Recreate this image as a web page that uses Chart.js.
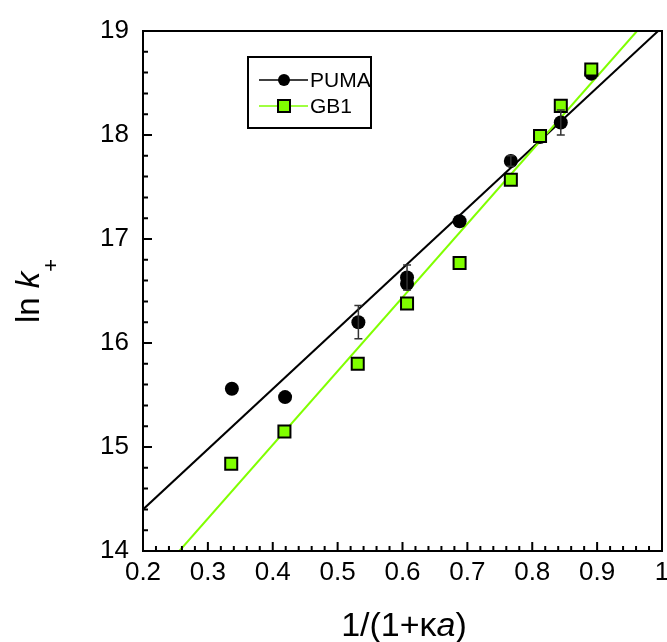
<!DOCTYPE html>
<html>
<head>
<meta charset="utf-8">
<script src="https://cdn.jsdelivr.net/npm/chart.js@4.4.1/dist/chart.umd.min.js"></script>
<style>
  html, body { margin: 0; padding: 0; background: #fff; }
</style>
</head>
<body>
<canvas id="chart" width="667" height="642"></canvas>
<script>
// datos
const xTicks = [0.2, 0.3, 0.4, 0.5, 0.6, 0.7, 0.8, 0.9, 1];
const yTicks = [14, 15, 16, 17, 18, 19];

const pumaX = [0.337, 0.419, 0.532, 0.607, 0.607, 0.688, 0.767, 0.812, 0.844, 0.891];
const pumaY = [15.56, 15.48, 16.20, 16.63, 16.57, 17.17, 17.75, 17.98, 18.12, 18.59];
const pumaErr = [0, 0, 0.16, 0.12, 0, 0, 0.05, 0, 0.12, 0];

const gb1X = [0.336, 0.418, 0.531, 0.607, 0.688, 0.767, 0.812, 0.844, 0.891];
const gb1Y = [14.84, 15.15, 15.80, 16.38, 16.77, 17.57, 17.99, 18.28, 18.63];

// rectas de ajuste (extremos)
const pumaFitX = [0.2, 0.994];
const pumaFitY = [14.40, 19];
const gb1FitX = [0.256, 0.9615];
const gb1FitY = [14, 19];

const GREEN = '#80ff00';
const FONT = '"Liberation Sans", Arial, sans-serif';

const toPts = (xs, ys) => xs.map((x, i) => ({ x: x, y: ys[i] }));

// ejes con marcas hacia adentro, marco, barras de error, leyenda y titulos
const framePlugin = {
    id: 'framePlugin',
    afterDatasetsDraw(chart) {
        const { ctx, chartArea: a, scales: { x, y } } = chart;
        ctx.save();

        // barras de error (PUMA)
        ctx.strokeStyle = '#333';
        ctx.lineWidth = 1.5;
        pumaErr.forEach((e, i) => {
            if (!e) return;
            const px = x.getPixelForValue(pumaX[i]);
            const top = y.getPixelForValue(pumaY[i] + e);
            const bot = y.getPixelForValue(pumaY[i] - e);
            ctx.beginPath();
            ctx.moveTo(px, top); ctx.lineTo(px, bot);
            ctx.moveTo(px - 4, top); ctx.lineTo(px + 4, top);
            ctx.moveTo(px - 4, bot); ctx.lineTo(px + 4, bot);
            ctx.stroke();
        });

        // marco
        ctx.strokeStyle = '#000';
        ctx.lineWidth = 2;
        ctx.strokeRect(a.left, a.top, a.right - a.left, a.bottom - a.top);

        // marcas eje x: cada 0.02, mayores cada 0.1
        ctx.beginPath();
        for (let i = 0; i <= 40; i++) {
            const px = x.getPixelForValue(0.2 + i * 0.02);
            const len = i % 5 === 0 ? 9 : 5;
            ctx.moveTo(px, a.bottom); ctx.lineTo(px, a.bottom - len);
        }
        // marcas eje y: cada 0.2, mayores cada 1
        for (let i = 0; i <= 25; i++) {
            const py = y.getPixelForValue(14 + i * 0.2);
            const len = i % 5 === 0 ? 9 : 5;
            ctx.moveTo(a.left, py); ctx.lineTo(a.left + len, py);
        }
        ctx.stroke();

        // etiquetas del eje x
        ctx.fillStyle = '#000';
        ctx.font = '26px ' + FONT;
        ctx.textAlign = 'center';
        ctx.textBaseline = 'top';
        xTicks.forEach(v => {
            ctx.fillText(String(v), x.getPixelForValue(v), a.bottom + 9);
        });

        // leyenda
        const lx = 248, ly = 57, lw = 123, lh = 71;
        ctx.fillStyle = '#fff';
        ctx.fillRect(lx, ly, lw, lh);
        ctx.strokeRect(lx, ly, lw, lh);
        const rows = [
            { ds: chart.data.datasets[2], yy: 80 },
            { ds: chart.data.datasets[3], yy: 106 }
        ];
        rows.forEach(r => {
            ctx.strokeStyle = r.ds.lineColor;
            ctx.lineWidth = 1.5;
            ctx.beginPath();
            ctx.moveTo(lx + 11, r.yy); ctx.lineTo(lx + 60, r.yy);
            ctx.stroke();
            ctx.fillStyle = r.ds.backgroundColor;
            ctx.strokeStyle = '#000';
            ctx.lineWidth = 2;
            if (r.ds.pointStyle === 'circle') {
                ctx.beginPath();
                ctx.arc(lx + 36, r.yy, 6, 0, Math.PI * 2);
                ctx.fill();
            } else {
                ctx.fillRect(lx + 30, r.yy - 6, 12, 12);
                ctx.strokeRect(lx + 30, r.yy - 6, 12, 12);
            }
            ctx.fillStyle = '#000';
            ctx.font = '21px ' + FONT;
            ctx.textBaseline = 'middle';
            ctx.textAlign = 'left';
            ctx.fillText(r.ds.label, lx + 62, r.yy + 1);
        });

        // titulo eje x: 1/(1+κa)
        ctx.fillStyle = '#000';
        ctx.textBaseline = 'alphabetic';
        ctx.textAlign = 'left';
        const xParts = [['1/(1+κ', ''], ['a', 'italic '], [')', '']];
        let total = 0;
        xParts.forEach(p => { ctx.font = p[1] + '34px ' + FONT; total += ctx.measureText(p[0]).width; });
        let cx = 404 - total / 2;
        xParts.forEach(p => {
            ctx.font = p[1] + '34px ' + FONT;
            ctx.fillText(p[0], cx, 636);
            cx += ctx.measureText(p[0]).width;
        });

        // titulo eje y: ln k+
        ctx.translate(39, 291);
        ctx.rotate(-Math.PI / 2);
        const yParts = [['ln ', '', 33, 0], ['k', 'italic ', 33, 0], ['+', '', 22, 19]];
        total = 0;
        yParts.forEach(p => { ctx.font = p[1] + p[2] + 'px ' + FONT; total += ctx.measureText(p[0]).width; });
        cx = -total / 2;
        yParts.forEach(p => {
            ctx.font = p[1] + p[2] + 'px ' + FONT;
            ctx.fillText(p[0], cx, p[3]);
            cx += ctx.measureText(p[0]).width;
        });

        ctx.restore();
    }
};

new Chart(document.getElementById('chart'), {
    type: 'scatter',
    data: {
        datasets: [
            {
                label: 'PUMA ajuste',
                data: toPts(pumaFitX, pumaFitY),
                showLine: true,
                borderColor: '#000',
                borderWidth: 2,
                pointRadius: 0,
                order: 4
            },
            {
                label: 'GB1 ajuste',
                data: toPts(gb1FitX, gb1FitY),
                showLine: true,
                borderColor: GREEN,
                borderWidth: 2,
                pointRadius: 0,
                order: 3
            },
            {
                label: 'PUMA',
                data: toPts(pumaX, pumaY),
                pointStyle: 'circle',
                pointRadius: 7,
                backgroundColor: '#000',
                borderColor: '#000',
                borderWidth: 0,
                lineColor: '#000',
                order: 2
            },
            {
                label: 'GB1',
                data: toPts(gb1X, gb1Y),
                pointStyle: 'rect',
                pointRadius: 8.5,
                backgroundColor: GREEN,
                borderColor: '#000',
                borderWidth: 2,
                lineColor: GREEN,
                order: 1
            }
        ]
    },
    options: {
        responsive: false,
        animation: false,
        layout: { autoPadding: false, padding: { left: 0, right: 5, top: 31, bottom: 0 } },
        scales: {
            x: {
                type: 'linear',
                min: 0.2,
                max: 1,
                afterBuildTicks: s => { s.ticks = xTicks.map(v => ({ value: v })); },
                afterFit: s => { s.height = 91; },
                grid: { display: false, drawTicks: false },
                border: { display: false },
                ticks: { display: false }
            },
            y: {
                type: 'linear',
                min: 14,
                max: 19,
                afterBuildTicks: s => { s.ticks = yTicks.map(v => ({ value: v })); },
                afterFit: s => { s.width = 143; },
                grid: { display: false, drawTicks: false },
                border: { display: false },
                ticks: {
                    color: '#000',
                    padding: 14,
                    font: { family: FONT, size: 26 }
                }
            }
        },
        plugins: {
            legend: { display: false },
            tooltip: { enabled: false }
        }
    },
    plugins: [framePlugin]
});
</script>
</body>
</html>
